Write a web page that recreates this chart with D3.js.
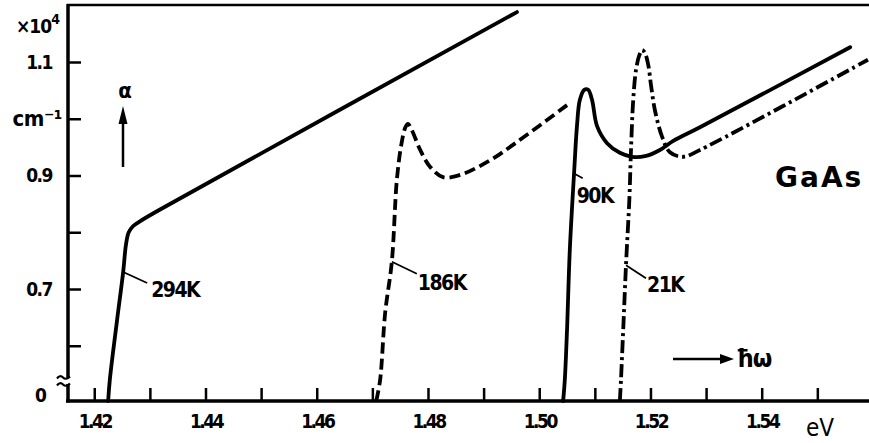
<!DOCTYPE html>
<html>
<head>
<meta charset="utf-8">
<script src="https://cdn.jsdelivr.net/npm/d3@7"></script>
<style>
  html, body { margin: 0; padding: 0; background: #fff; }
  svg { display: block; }
  text { fill: #000; font-family: "DejaVu Sans Condensed", "DejaVu Sans", sans-serif; font-weight: bold; }
</style>
</head>
<body>
<svg id="chart" width="869" height="443"></svg>
<script>
// GaAs absorption edge: alpha (1e4 cm^-1) vs photon energy (eV) at four temperatures
const temperatures = ["294K", "186K", "90K", "21K"];

const energy294 = [1.4225, 1.4228, 1.4241, 1.4252, 1.4257, 1.4262, 1.4270, 1.4280, 1.4320, 1.4960];
const alpha294  = [0,      0.54,   0.645,  0.730,  0.778,  0.800,  0.811,  0.818,  0.841,  1.188];

const energy186 = [1.4707, 1.4714, 1.4723, 1.4735, 1.4744, 1.4752, 1.4759, 1.4764, 1.4771, 1.4786, 1.4804, 1.4827, 1.4858, 1.4912, 1.4960, 1.5050];
const alpha186  = [0,      0.54,   0.658,  0.748,  0.892,  0.954,  0.984,  0.991,  0.980,  0.945,  0.915,  0.897,  0.901,  0.927,  0.959,  1.024];

const energy90 = [1.5043, 1.5046, 1.5050, 1.5055, 1.5063, 1.5068, 1.5073, 1.5081, 1.5088, 1.5095, 1.5104, 1.5122, 1.5145, 1.5167, 1.5190, 1.5217, 1.5241, 1.5289, 1.5559];
const alpha90  = [0,      0.54,   0.628,  0.769,  0.910,  0.989,  1.033,  1.051,  1.051,  1.033,  0.987,  0.957,  0.940,  0.933,  0.934,  0.945,  0.961,  0.985,  1.126];

const energy21 = [1.5145, 1.5147, 1.5151, 1.5156, 1.5162, 1.5165, 1.5169, 1.5174, 1.5180, 1.5185, 1.5190, 1.5196, 1.5201, 1.5208, 1.5221, 1.5235, 1.5259, 1.5289, 1.5591];
const alpha21  = [0,      0.54,   0.628,  0.742,  0.857,  0.945,  1.033,  1.086,  1.112,  1.121,  1.116,  1.095,  1.059,  1.015,  0.968,  0.941,  0.933,  0.945,  1.104];

const xTickValues = [1.42, 1.43, 1.44, 1.45, 1.46, 1.47, 1.48, 1.49, 1.50, 1.51, 1.52, 1.53, 1.54, 1.55];
const xTickLabels = ["1.42", "", "1.44", "", "1.46", "", "1.48", "", "1.50", "", "1.52", "", "1.54", ""];
const yTickValues = [0.6, 0.7, 0.8, 0.9, 1.0, 1.1];
const yTickLabels = ["", "0.7", "", "0.9", "cm\u207B\u00B9", "1.1"];

const series = [
  { name: temperatures[0], e: energy294, a: alpha294, dash: null },
  { name: temperatures[1], e: energy186, a: alpha186, dash: "11 5" },
  { name: temperatures[2], e: energy90,  a: alpha90,  dash: null },
  { name: temperatures[3], e: energy21,  a: alpha21,  dash: "13 4 3 4" }
];

// curve labels: point on the curve where the leader starts
const curveLabels = [
  { name: "294K", e: 1.4252, a: 0.730, lx: 24, ly: 11, tx: 28, ty: 25 },
  { name: "186K", e: 1.4735, a: 0.748, lx: 25, ly: 12, tx: 26, ty: 28 },
  { name: "90K",  e: 1.5062, a: 0.904, lx: 9,  ly: 5,  tx: 3,  ty: 30 },
  { name: "21K",  e: 1.5156, a: 0.742, lx: 20, ly: 13, tx: 21, ty: 27 }
];

const svg = d3.select("#chart");

const x = d3.scaleLinear().domain([1.41528, 1.55929]).range([68, 869]);
// broken axis: the zero level is compressed below the break
const y = d3.scaleLinear().domain([0, 0.54, 1.2]).range([401, 379.8, 5.25]);

// frame line along the top
svg.append("line").attr("x1", 67).attr("x2", 869).attr("y1", 5).attr("y2", 5)
  .attr("stroke", "#000").attr("stroke-width", 2.5);

// x axis
const xAxis = d3.axisBottom(x).tickValues(xTickValues)
  .tickFormat((d, i) => xTickLabels[i]).tickSizeInner(-13).tickSizeOuter(0).tickPadding(10);
const gx = svg.append("g").attr("transform", "translate(0,401)").call(xAxis);
gx.select(".domain").remove();
gx.selectAll(".tick line").attr("stroke", "#000").attr("stroke-width", 2.5);
gx.selectAll(".tick text").attr("font-size", 19).attr("letter-spacing", -2.5).attr("dy", "0.9em")
  .style("font-family", "'DejaVu Sans Condensed', sans-serif").style("font-weight", "bold");

// y axis
const yAxis = d3.axisLeft(y).tickValues(yTickValues)
  .tickFormat((d, i) => yTickLabels[i]).tickSizeInner(-13).tickSizeOuter(0).tickPadding(16);
const gy = svg.append("g").attr("transform", "translate(68,0)").call(yAxis);
gy.select(".domain").remove();
gy.selectAll(".tick line").attr("stroke", "#000").attr("stroke-width", 2.5);
gy.selectAll(".tick text").attr("font-size", 19).attr("letter-spacing", -1.5)
  .style("font-family", "'DejaVu Sans Condensed', sans-serif").style("font-weight", "bold");
gy.selectAll(".tick text").filter(d => d === 1.0).attr("x", -6).attr("font-size", 22)
  .attr("letter-spacing", -0.5);

svg.append("text").attr("x", 47).attr("y", y(0) - 6).attr("dy", "0.35em")
  .attr("text-anchor", "end").attr("font-size", 19).text("0");

// axis lines
svg.append("line").attr("x1", 68).attr("x2", 68).attr("y1", 4).attr("y2", 402.5)
  .attr("stroke", "#000").attr("stroke-width", 3.5);
svg.append("line").attr("x1", 66).attr("x2", 869).attr("y1", 401).attr("y2", 401)
  .attr("stroke", "#000").attr("stroke-width", 3.5);

// break mark on the alpha axis
const by = y(0.51);
svg.append("rect").attr("x", 62).attr("y", by - 3).attr("width", 12).attr("height", 6).attr("fill", "#fff");
[-3.5, 3.5].forEach(o => {
  svg.append("path")
    .attr("d", `M57,${by + o + 1} q3,-4 6,-1 t7,-1`)
    .attr("fill", "none").attr("stroke", "#000").attr("stroke-width", 2.2);
});

// ×10^4 multiplier
const mult = svg.append("text").attr("x", 16).attr("y", 33).attr("font-size", 19).attr("letter-spacing", -1);
mult.append("tspan").text("\u00D710");
mult.append("tspan").attr("dy", -9).attr("font-size", 14).text("4");

// curves
const line = d3.line().x(d => x(d[0])).y(d => y(d[1])).curve(d3.curveCatmullRom.alpha(0.5));
series.forEach(s => {
  const pts = s.e.map((e, i) => [e, s.a[i]]);
  svg.append("path").datum(pts).attr("d", line)
    .attr("fill", "none").attr("stroke", "#000").attr("stroke-width", 3.8)
    .attr("stroke-linejoin", "round")
    .attr("stroke-linecap", s.dash ? "butt" : "round")
    .attr("stroke-dasharray", s.dash);
});

// curve labels with leaders
curveLabels.forEach(l => {
  const px = x(l.e), py = y(l.a);
  svg.append("line").attr("x1", px).attr("y1", py).attr("x2", px + l.lx).attr("y2", py + l.ly)
    .attr("stroke", "#000").attr("stroke-width", 1.8);
  svg.append("text").attr("x", px + l.tx).attr("y", py + l.ty)
    .attr("font-size", 21).attr("letter-spacing", -1.5).text(l.name);
});

// alpha arrow
svg.append("text").attr("x", 125).attr("y", 98).attr("text-anchor", "middle")
  .attr("font-size", 22).text("\u03B1");
svg.append("line").attr("x1", 123).attr("x2", 123).attr("y1", 167).attr("y2", 118)
  .attr("stroke", "#000").attr("stroke-width", 2.5);
svg.append("path").attr("d", "M123,106 L127.5,124 L118.5,124 Z").attr("fill", "#000");

// photon energy arrow
svg.append("line").attr("x1", 673).attr("x2", 722).attr("y1", 359).attr("y2", 359)
  .attr("stroke", "#000").attr("stroke-width", 2.5);
svg.append("path").attr("d", "M734,359 L720,354 L720,364 Z").attr("fill", "#000");
svg.append("text").attr("x", 736).attr("y", 367).attr("font-size", 25).attr("letter-spacing", -1).text("\u0127\u03C9");

// unit and material
svg.append("text").attr("x", 806).attr("y", 436).attr("font-size", 24)
  .style("font-weight", "normal").text("eV");
svg.append("text").attr("x", 775).attr("y", 187).attr("font-size", 28)
  .attr("letter-spacing", 2).style("font-family", "'DejaVu Sans', sans-serif").text("GaAs");
</script>
</body>
</html>
